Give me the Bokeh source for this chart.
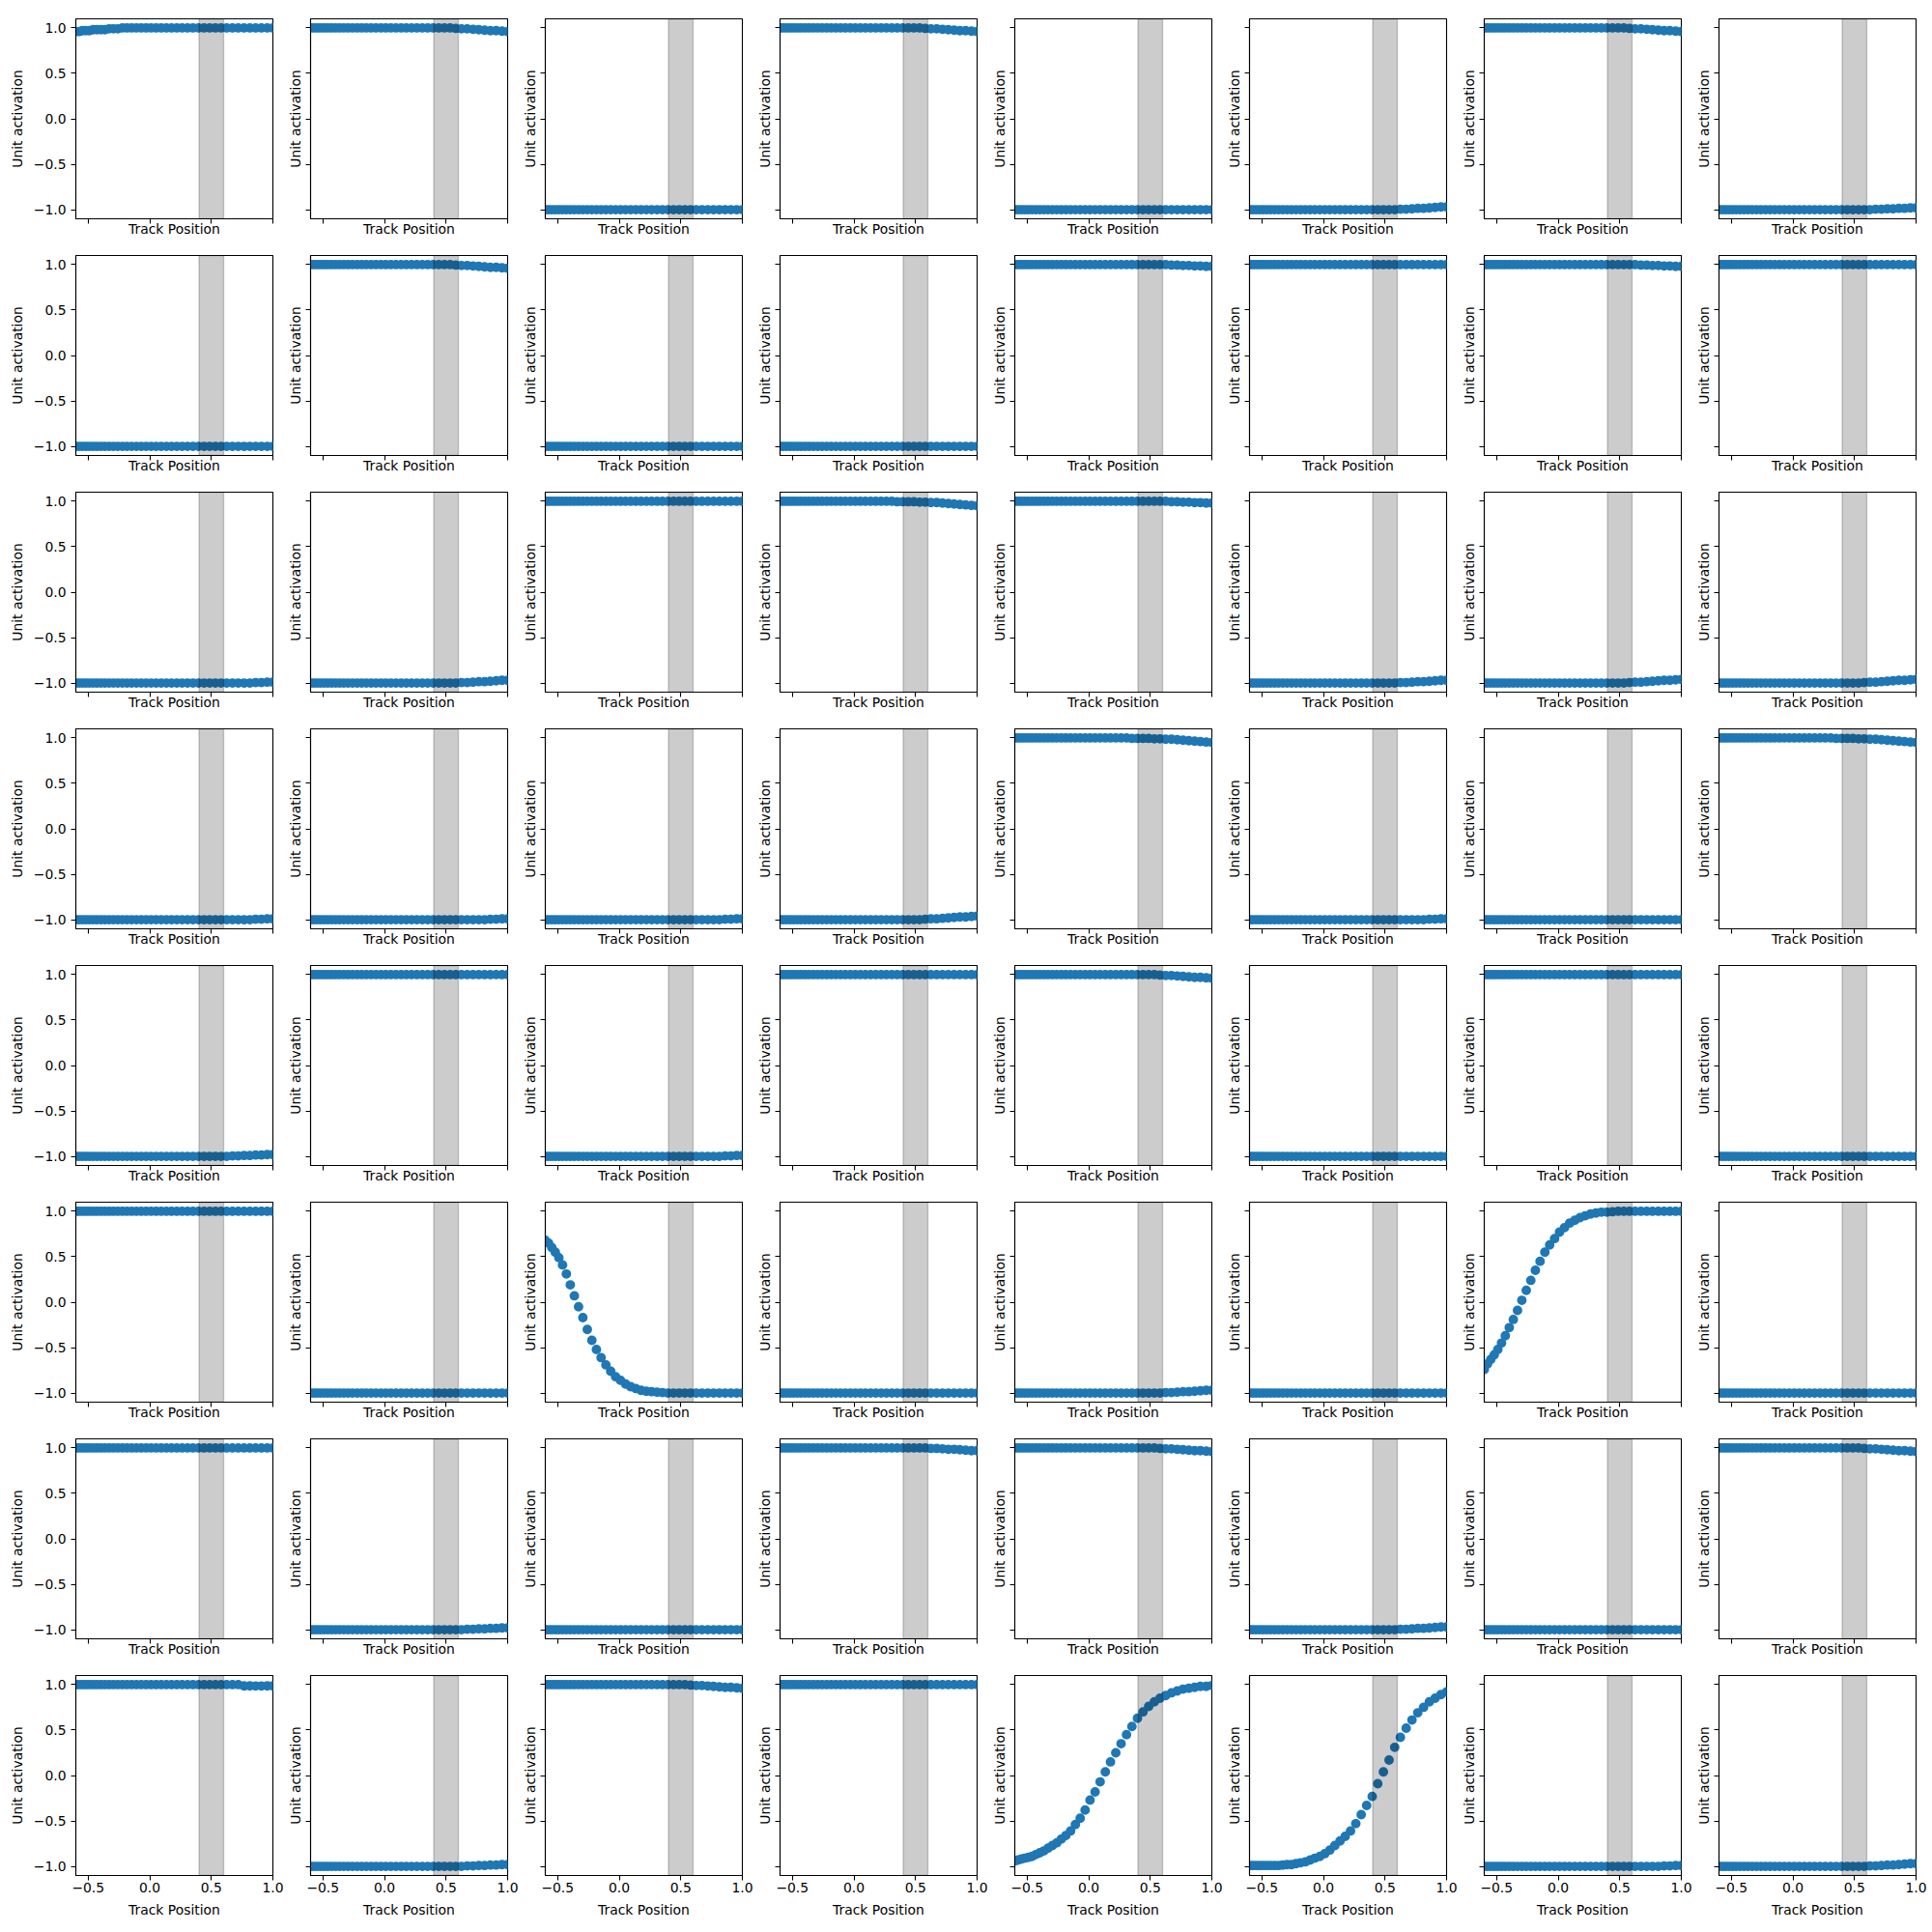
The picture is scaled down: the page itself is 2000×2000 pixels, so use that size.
from bokeh.plotting import figure
from bokeh.layouts import gridplot
from bokeh.models import BoxAnnotation, ColumnDataSource, Range1d, FixedTicker
from bokeh.embed import file_html
from bokeh.resources import INLINE

# ---------------- data ----------------
track_position = [-0.600, -0.574, -0.547, -0.519, -0.490, -0.460, -0.429, -0.397, -0.364, -0.330,
                  -0.295, -0.259, -0.222, -0.185, -0.147, -0.108, -0.069, -0.029, 0.011, 0.052,
                  0.093, 0.135, 0.177, 0.220, 0.263, 0.307, 0.351, 0.396, 0.441, 0.487,
                  0.533, 0.579, 0.625, 0.672, 0.719, 0.766, 0.813, 0.860, 0.907, 0.954, 1.000]

band_start = 0.4
band_end = 0.6
x_ticks = [-0.5, 0.0, 0.5, 1.0]
y_ticks = [-1.0, -0.5, 0.0, 0.5, 1.0]
y_tick_labels = ["\u22121.0", "\u22120.5", "0.0", "0.5", "1.0"]
x_tick_labels = ["\u22120.5", "0.0", "0.5", "1.0"]

flat_pos = [1, 1, 1, 1, 1, 1, 1, 1, 1, 1,
            1, 1, 1, 1, 1, 1, 1, 1, 1, 1,
            1, 1, 1, 1, 1, 1, 1, 1, 1, 1,
            1, 1, 1, 1, 1, 1, 1, 1, 1, 1, 1]
flat_neg = [-1, -1, -1, -1, -1, -1, -1, -1, -1, -1,
            -1, -1, -1, -1, -1, -1, -1, -1, -1, -1,
            -1, -1, -1, -1, -1, -1, -1, -1, -1, -1,
            -1, -1, -1, -1, -1, -1, -1, -1, -1, -1, -1]
pos_to_099 = [1, 1, 1, 1, 1, 1, 1, 1, 1, 1,
              1, 1, 1, 1, 1, 1, 1, 1, 1, 1,
              1, 1, 1, 1, 1, 1, 1, 1, 1, 1,
              1, 1, 1, 1, 1, 1, 1, .995, .995, .99, .99]
pos_to_098 = [1, 1, 1, 1, 1, 1, 1, 1, 1, 1,
              1, 1, 1, 1, 1, 1, 1, 1, 1, 1,
              1, 1, 1, 1, 1, 1, 1, 1, 1, 1,
              1, 1, 1, .995, .995, .99, .99, .985, .985, .98, .98]
pos_to_097 = [1, 1, 1, 1, 1, 1, 1, 1, 1, 1,
              1, 1, 1, 1, 1, 1, 1, 1, 1, 1,
              1, 1, 1, 1, 1, 1, 1, 1, 1, 1,
              1, 1, .995, .995, .99, .985, .985, .98, .975, .97, .97]
pos_to_096 = [1, 1, 1, 1, 1, 1, 1, 1, 1, 1,
              1, 1, 1, 1, 1, 1, 1, 1, 1, 1,
              1, 1, 1, 1, 1, 1, 1, 1, 1, 1,
              1, .995, .99, .99, .985, .98, .975, .97, .97, .965, .96]
pos_to_095 = [1, 1, 1, 1, 1, 1, 1, 1, 1, 1,
              1, 1, 1, 1, 1, 1, 1, 1, 1, 1,
              1, 1, 1, 1, 1, 1, .995, .995, .995, .995,
              .99, .99, .985, .985, .98, .975, .97, .965, .96, .955, .95]
neg_to_099 = [-1, -1, -1, -1, -1, -1, -1, -1, -1, -1,
              -1, -1, -1, -1, -1, -1, -1, -1, -1, -1,
              -1, -1, -1, -1, -1, -1, -1, -1, -1, -1,
              -1, -1, -1, -1, -1, -1, -1, -.995, -.995, -.99, -.99]
neg_to_098 = [-1, -1, -1, -1, -1, -1, -1, -1, -1, -1,
              -1, -1, -1, -1, -1, -1, -1, -1, -1, -1,
              -1, -1, -1, -1, -1, -1, -1, -1, -1, -1,
              -1, -1, -1, -.995, -.995, -.99, -.99, -.985, -.985, -.98, -.98]
neg_to_097 = [-1, -1, -1, -1, -1, -1, -1, -1, -1, -1,
              -1, -1, -1, -1, -1, -1, -1, -1, -1, -1,
              -1, -1, -1, -1, -1, -1, -1, -1, -1, -1,
              -1, -1, -.995, -.995, -.99, -.985, -.985, -.98, -.975, -.97, -.97]
neg_to_096 = [-1, -1, -1, -1, -1, -1, -1, -1, -1, -1,
              -1, -1, -1, -1, -1, -1, -1, -1, -1, -1,
              -1, -1, -1, -1, -1, -1, -1, -1, -1, -1,
              -1, -.995, -.99, -.99, -.985, -.98, -.975, -.97, -.97, -.965, -.96]

act_1_1 = [0.96, 0.96, 0.97, 0.97, 0.97, 0.98, 0.98, 0.98, 0.98, 0.99,
           0.99, 0.99, 1, 1, 1, 1, 1, 1, 1, 1,
           1, 1, 1, 1, 1, 1, 1, 1, 1, 1,
           1, 1, 1, 1, 1, 1, 1, 1, 1, 1, 1]
act_8_1 = [1, 1, 1, 1, 1, 1, 1, 1, 1, 1,
           1, 1, 1, 1, 1, 1, 1, 1, 1, 1,
           1, 1, 1, 1, 1, 1, 1, 1, 1, 1,
           1, 1, 1, 1, 1, .985, .985, .985, .985, .985, .985]
act_6_3 = [0.68, 0.65, 0.60, 0.55, 0.49, 0.41, 0.31, 0.19, 0.07, -0.05,
           -0.17, -0.30, -0.42, -0.52, -0.61, -0.69, -0.76, -0.82, -0.86, -0.90,
           -0.93, -0.95, -0.97, -0.98, -0.985, -0.99, -0.995, -1, -1, -1,
           -1, -1, -1, -1, -1, -1, -1, -1, -1, -1, -1]
act_6_7 = [-0.74, -0.68, -0.63, -0.58, -0.52, -0.45, -0.37, -0.28, -0.19, -0.09,
           0.02, 0.13, 0.24, 0.35, 0.45, 0.55, 0.63, 0.70, 0.77, 0.82,
           0.87, 0.90, 0.93, 0.95, 0.97, 0.98, 0.99, 0.99, 0.995, 1,
           1, 1, 1, 1, 1, 1, 1, 1, 1, 1, 1]
act_8_5 = [-0.94, -0.93, -0.92, -0.91, -0.90, -0.89, -0.87, -0.85, -0.83, -0.80,
           -0.77, -0.74, -0.70, -0.66, -0.61, -0.54, -0.47, -0.38, -0.27, -0.18,
           -0.07, 0.04, 0.15, 0.25, 0.35, 0.45, 0.54, 0.63, 0.70, 0.76,
           0.81, 0.85, 0.88, 0.91, 0.93, 0.95, 0.96, 0.97, 0.98, 0.98, 0.99]
act_8_6 = [-0.99, -0.99, -0.99, -0.99, -0.99, -0.99, -0.99, -0.99, -0.99, -0.985,
           -0.98, -0.98, -0.97, -0.96, -0.95, -0.93, -0.91, -0.89, -0.86, -0.82,
           -0.77, -0.72, -0.67, -0.61, -0.53, -0.43, -0.33, -0.23, -0.09, 0.04,
           0.17, 0.31, 0.42, 0.52, 0.61, 0.69, 0.75, 0.81, 0.85, 0.89, 0.92]

panels = [
    [act_1_1, pos_to_096, flat_neg, pos_to_096, flat_neg, neg_to_097, pos_to_096, neg_to_098],
    [flat_neg, pos_to_096, flat_neg, flat_neg, pos_to_098, flat_pos, pos_to_098, flat_pos],
    [neg_to_099, neg_to_097, flat_pos, pos_to_095, pos_to_098, neg_to_097, neg_to_096, neg_to_096],
    [neg_to_099, neg_to_099, neg_to_099, neg_to_096, pos_to_095, neg_to_099, flat_neg, pos_to_095],
    [neg_to_098, flat_pos, neg_to_099, flat_pos, pos_to_096, flat_neg, flat_pos, flat_neg],
    [flat_pos, flat_neg, act_6_3, flat_neg, neg_to_097, flat_neg, act_6_7, flat_neg],
    [flat_pos, neg_to_098, flat_neg, pos_to_097, pos_to_096, neg_to_097, flat_neg, pos_to_096],
    [act_8_1, neg_to_098, pos_to_096, flat_pos, act_8_5, act_8_6, neg_to_099, neg_to_097],
]

# ---------------- layout ----------------
FONT = "DejaVu Sans"
FS = "13.9px"
FRAME_W, FRAME_H = 204, 207
left_borders = [78, 27, 27, 26, 27, 27, 26, 27]
RIGHT = 12

rows = []
for r in range(8):
    row = []
    top = 19 if r == 0 else 14
    bottom = 58 if r == 7 else 24
    for c in range(8):
        left = left_borders[c]
        p = figure(width=left + FRAME_W + RIGHT, height=top + FRAME_H + bottom,
                   frame_width=FRAME_W, frame_height=FRAME_H,
                   x_range=Range1d(-0.6, 1.0), y_range=Range1d(-1.1, 1.1),
                   output_backend="svg", toolbar_location=None,
                   min_border_left=left, min_border_right=RIGHT,
                   min_border_top=top, min_border_bottom=bottom)
        p.xgrid.visible = False
        p.ygrid.visible = False
        p.outline_line_color = "black"
        p.outline_line_width = 1.1
        p.background_fill_color = "white"
        p.border_fill_color = "white"

        src = ColumnDataSource(dict(x=track_position, y=panels[r][c]))
        p.scatter("x", "y", source=src, size=8.3, fill_color="#1f77b4",
                  line_color="#1f77b4", line_width=1.6)

        p.add_layout(BoxAnnotation(left=band_start, right=band_end,
                                   fill_color="black", fill_alpha=0.2,
                                   line_color="black", line_alpha=0.2, line_width=1.4))

        for ax in (p.xaxis[0], p.yaxis[0]):
            ax.axis_line_color = "black"
            ax.axis_line_width = 1.1
            ax.major_tick_line_color = "black"
            ax.major_tick_line_width = 1.1
            ax.major_tick_in = 0
            ax.major_tick_out = 5
            ax.minor_tick_line_color = None
            ax.major_label_text_font = FONT
            ax.major_label_text_color = "black"
            ax.axis_label_text_font = FONT
            ax.axis_label_text_font_size = FS
            ax.axis_label_text_font_style = "normal"
            ax.axis_label_text_color = "black"

        xa = p.xaxis[0]
        xa.ticker = FixedTicker(ticks=x_ticks)
        xa.axis_label = "Track Position"
        if r == 7:
            xa.major_label_text_font_size = FS
            xa.major_label_overrides = {t: s for t, s in zip(x_ticks, x_tick_labels)}
            xa.major_label_standoff = 2
            xa.axis_label_standoff = 7
        else:
            # shared x axis: tick marks only, no tick labels drawn
            xa.major_label_text_font_size = "0px"
            xa.major_label_text_color = None
            xa.major_label_standoff = 0
            xa.axis_label_standoff = -3

        ya = p.yaxis[0]
        ya.ticker = FixedTicker(ticks=y_ticks)
        ya.axis_label = "Unit activation"
        if c == 0:
            ya.major_label_text_font_size = FS
            ya.major_label_overrides = {t: s for t, s in zip(y_ticks, y_tick_labels)}
            ya.major_label_standoff = 5
            ya.axis_label_standoff = 6
        else:
            # shared y axis: tick marks only, no tick labels drawn
            ya.major_label_text_font_size = "0px"
            ya.major_label_text_color = None
            ya.major_label_standoff = 0
            ya.axis_label_standoff = 3
        row.append(p)
    rows.append(row)

grid = gridplot(rows, toolbar_location=None)

with open("out.html", "w") as f:
    f.write(file_html(grid, INLINE))
